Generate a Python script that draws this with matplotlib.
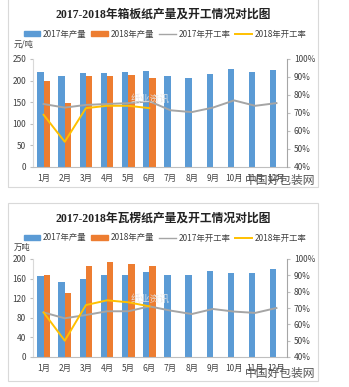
import matplotlib
matplotlib.use("Agg")
import matplotlib.pyplot as plt
from matplotlib.patches import Rectangle, Patch
from matplotlib.lines import Line2D

plt.rcParams['font.family'] = ['Noto Sans CJK SC', 'DejaVu Sans']

months = ["1月", "2月", "3月", "4月", "5月", "6月", "7月", "8月", "9月", "10月", "11月", "12月"]

# top chart: 箱板纸
box_2017 = [219, 211, 217, 218, 220, 223, 210, 207, 215, 227, 221, 225]
box_2018 = [200, 148, 210, 211, 214, 207]
box_rate_2017 = [75, 73, 74.5, 75, 75.5, 76.5, 71.5, 70.5, 73, 77, 74, 75.5]
box_rate_2018 = [69, 54, 72.7, 74, 74, 72.7]

# bottom chart: 瓦楞纸
cor_2017 = [166, 153, 160, 168, 168, 174, 168, 167, 175, 172, 172, 180]
cor_2018 = [168, 130, 185, 194, 190, 185]
cor_rate_2017 = [67.3, 63.7, 65.7, 68, 68, 71, 68.4, 66.3, 69.4, 67.8, 67, 70]
cor_rate_2018 = [67.3, 50, 71.8, 74.7, 73.5, 71]

blue = "#5b9bd5"
orange = "#ed7d31"
gray = "#a5a5a5"
yellow = "#ffc000"
txt = "#404040"

W, H = 349, 387
fig = plt.figure(figsize=(W / 100, H / 100), dpi=100)


def px(x0, y0, x1, y1):
    # pixel box -> figure fraction
    return [x0 / W, 1 - y1 / H, (x1 - x0) / W, (y1 - y0) / H]


def panel(top, bottom, title, unit, y_top, y_bot, v17, v18, r17, r18, ymax, ystep, title_y, leg_y, unit_y, mark_y):
    fig.patches.append(Rectangle((8 / W, 1 - bottom / H), 310 / W, (bottom - top) / H,
                                 transform=fig.transFigure, fill=False, edgecolor="#d9d9d9", lw=0.8))
    fig.text(163 / W, 1 - title_y / H, title, ha="center", va="center", fontsize=8.5,
             fontweight="bold", family=["Liberation Serif", "Noto Sans CJK SC"], color="#222222")

    ax = fig.add_axes(px(33, y_top, 287, y_bot))
    x = list(range(len(months)))
    ax.bar([i - 0.15 for i in x], v17, width=0.3, color=blue)
    ax.bar([i + 0.15 for i in range(len(v18))], v18, width=0.3, color=orange)
    ax.set_xlim(-0.5, 11.5)
    ax.set_ylim(0, ymax)
    ax.set_yticks(range(0, ymax + 1, ystep))
    ax.set_xticks(x)
    ax.set_xticklabels(months)
    ax.tick_params(axis="x", labelsize=6, colors=txt, length=0, pad=5)
    ax.tick_params(axis="y", labelsize=6, colors=txt, length=2, color="#bfbfbf", pad=3)
    for s in ["top", "right"]:
        ax.spines[s].set_visible(False)
    ax.spines["left"].set_color("#d9d9d9")
    ax.spines["bottom"].set_color("#bfbfbf")

    ax2 = ax.twinx()
    ax2.plot(x, r17, color=gray, lw=1.4)
    ax2.plot(range(len(r18)), r18, color=yellow, lw=1.4)
    ax2.set_ylim(40, 100)
    ax2.set_yticks(range(40, 101, 10))
    ax2.set_yticklabels([f"{v}%" for v in range(40, 101, 10)])
    ax2.tick_params(axis="y", labelsize=6, colors=txt, length=2, color="#bfbfbf", pad=3)
    ax2.spines["top"].set_visible(False)
    ax2.spines["left"].set_visible(False)
    ax2.spines["bottom"].set_visible(False)
    ax2.spines["right"].set_color("#a6a6a6")

    handles = [Patch(color=blue), Patch(color=orange),
               Line2D([], [], color=gray, lw=1), Line2D([], [], color=yellow, lw=1.4)]
    labels = ["2017年产量", "2018年产量", "2017年开工率", "2018年开工率"]
    fig.legend(handles, labels, ncol=4, loc="center", bbox_to_anchor=(165 / W, 1 - leg_y / H),
               frameon=False, fontsize=6, handlelength=2.0, handleheight=0.45, handletextpad=0.3,
               columnspacing=0.6, labelcolor=txt)

    fig.text(14 / W, 1 - unit_y / H, unit, ha="left", va="center", fontsize=6, color=txt)
    fig.text(150 / W, 1 - (y_top + 40) / H, "纸业资讯", ha="center", va="center", fontsize=7,
             color="#e6e6e6", alpha=0.9)
    fig.text(280 / W, 1 - mark_y / H, "中国好包装网", ha="center", va="center", fontsize=8.5,
             color="#555555")


panel(-2, 187, "2017-2018年箱板纸产量及开工情况对比图", "元/吨", 59, 167,
      box_2017, box_2018, box_rate_2017, box_rate_2018, 250, 50, 15, 34, 44, 180)
panel(203, 381, "2017-2018年瓦楞纸产量及开工情况对比图", "万吨", 259, 357,
      cor_2017, cor_2018, cor_rate_2017, cor_rate_2018, 200, 40, 219, 238, 247, 373)

fig.savefig("out.png", dpi=100)
